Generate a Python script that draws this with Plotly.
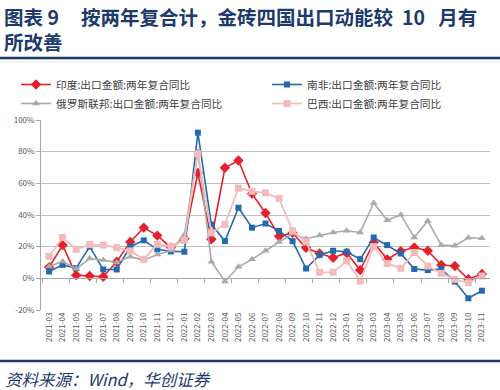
import plotly.graph_objects as go

months = ["2021-03","2021-04","2021-05","2021-06","2021-07","2021-08","2021-09","2021-10","2021-11","2021-12",
          "2022-01","2022-02","2022-03","2022-04","2022-05","2022-06","2022-07","2022-08","2022-09","2022-10",
          "2022-11","2022-12","2023-01","2023-02","2023-03","2023-04","2023-05","2023-06","2023-07","2023-08",
          "2023-09","2023-10","2023-11"]

india = [7, 21, 2, 1.5, 1, 10.5, 23, 32, 27, 19.5,
         25, 66.5, 24.7, 69.8, 74.4, 53.5, 41.3, 26.6, 28.7, 19.3,
         15.7, 13, 16, 5.2, 22.7, 12, 17.2, 19.5, 17.4, 8.4,
         7.8, -0.6, 2.7]
south_africa = [4.3, 8.5, 6.4, 20, 5.6, 5.6, 20, 24, 18.3, 17,
                16.8, 92, 34, 23.5, 44.6, 32, 34.6, 30, 23.5, 6.2,
                14.7, 17.4, 16.8, 12.1, 25.8, 21, 15.7, 5.9, 5.2, 5.9,
                -2, -12.6, -7.8]
russia = [7.5, 10.7, 6, 12.5, 11.5, 10, 13.7, 11.5, 15, 17.6,
          27.5, 80, 10.5, -2, 7.3, 12, 17.4, 23, 28.3, 25,
          27, 29, 30, 29, 47.6, 36.7, 40.2, 25.8, 36.2, 21,
          20.6, 25.6, 25.3]
brazil = [13.9, 25.8, 18.3, 21.3, 21, 19.4, 17.3, 12, 21.5, 20,
          24, 78.6, 28.7, 34, 57, 55, 54, 50.5, 30, 23,
          3.8, 3.8, 11, -1.7, 20, 9.4, 6.3, 16.3, 7.8, 3.1,
          -0.6, -2.8, 1.5]

series_names = ["印度:出口金额:两年复合同比", "南非:出口金额:两年复合同比",
                "俄罗斯联邦:出口金额:两年复合同比", "巴西:出口金额:两年复合同比"]

y_ticks = [-20, 0, 20, 40, 60, 80, 100]
y_tick_text = ["-20%", "0%", "20%", "40%", "60%", "80%", "100%"]

title_text = ("图表 9&nbsp;&nbsp;&nbsp;&nbsp;&nbsp;按两年复合计，金砖四国出口动能较&nbsp;&nbsp;10&nbsp;&nbsp;&nbsp;月有"
              "<br>所改善")
source_text = "资料来源：Wind，华创证券"

NAVY = "#1c3a6b"
CJK = "Noto Sans CJK SC"

fig = go.Figure()
styles = [
    (india, "#e3202c", "diamond", 8, 1.6, "legend"),
    (south_africa, "#2469b0", "square", 6, 1.6, "legend2"),
    (russia, "#a9a9a9", "triangle-up", 7, 1.6, "legend"),
    (brazil, "#f2bcbc", "square", 7, 1.8, "legend2"),
]
for (vals, color, sym, size, w, lg), name in zip(styles, series_names):
    fig.add_trace(go.Scatter(
        x=months, y=vals, name=name, mode="lines+markers", legend=lg,
        line=dict(color=color, width=w),
        marker=dict(symbol=sym, size=size, color=color),
    ))

# invisible trace on xaxis2 to anchor the zero-line axis
fig.add_trace(go.Scatter(x=months, y=[None]*len(months), xaxis="x2", showlegend=False, hoverinfo="skip"))

L, R, T, B = 41, 10, 120, 80
W, H = 500, 390
pw = W - L - R
ph = H - T - B

def px_x(X):
    return (X - L) / pw

def px_y(Y):
    return (H - B - Y) / ph

legend_common = dict(
    orientation="v", xanchor="left", yanchor="top", itemwidth=30,
    font=dict(family=CJK, size=10.7, color="#404040"),
    bgcolor="rgba(0,0,0,0)", tracegroupgap=0,
)

fig.update_layout(
    width=W, height=H,
    margin=dict(l=L, r=R, t=T, b=B),
    paper_bgcolor="white", plot_bgcolor="white",
    font=dict(family=CJK, color="#595959", size=9),
    showlegend=True,
    legend=dict(x=px_x(16), y=px_y(70), **legend_common),
    legend2=dict(x=px_x(267), y=px_y(70), **legend_common),
    xaxis=dict(
        type="category", showgrid=False, showline=False, ticks="",
        tickangle=-90, tickfont=dict(size=8, color="#595959"),
        range=[-0.6, len(months) - 0.4],
    ),
    xaxis2=dict(
        type="category", overlaying="x", anchor="free",
        position=20 / 120, side="bottom",
        showline=True, linecolor="#a6a6a6", linewidth=1,
        ticks="outside", ticklen=4, tickcolor="#a6a6a6", tickson="boundaries",
        showticklabels=False, showgrid=False,
        range=[-0.6, len(months) - 0.4],
    ),
    yaxis=dict(
        range=[-20, 100], tickvals=y_ticks, ticktext=y_tick_text,
        showgrid=True, gridcolor="#c0c0c0", gridwidth=1,
        zeroline=False, showline=True, linecolor="#a6a6a6",
        ticks="outside", ticklen=4, tickcolor="#a6a6a6",
        tickfont=dict(size=8, color="#595959"),
    ),
    hovermode=False,
)

# title and source text
fig.add_annotation(text=title_text, xref="paper", yref="paper",
                   x=px_x(2), y=px_y(29), xanchor="left", yanchor="middle", align="left",
                   showarrow=False, font=dict(family=CJK, size=19.5, color=NAVY, weight="bold"))
fig.add_annotation(text=source_text, xref="paper", yref="paper",
                   x=px_x(3), y=px_y(379), xanchor="left", yanchor="middle",
                   showarrow=False, font=dict(family=CJK, size=16.5, color=NAVY, style="italic"))

# decorative rules
fig.add_shape(type="line", xref="paper", yref="paper", x0=px_x(0), x1=px_x(500),
              y0=px_y(58), y1=px_y(58), line=dict(color=NAVY, width=2.5))
fig.add_shape(type="line", xref="paper", yref="paper", x0=px_x(0), x1=px_x(500),
              y0=px_y(361), y1=px_y(361), line=dict(color=NAVY, width=2.5))
fig.add_shape(type="line", xref="paper", yref="paper", x0=px_x(0), x1=px_x(500),
              y0=px_y(62), y1=px_y(62), line=dict(color="#e3edf5", width=1))

fig.write_html("out.html", config={"displayModeBar": False},
               post_script="document.body.style.margin='0';document.body.style.overflow='hidden';")
